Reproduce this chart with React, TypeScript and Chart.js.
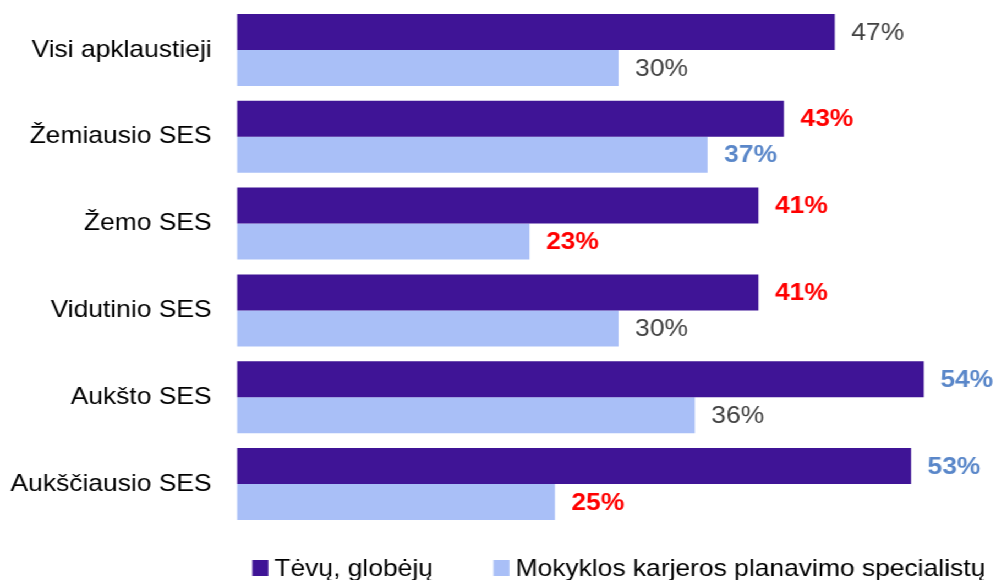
import React, { useEffect, useRef } from "react";
import { Chart, registerables } from "chart.js";

Chart.register(...registerables);

const categories = [
  "Visi apklaustieji",
  "Žemiausio SES",
  "Žemo SES",
  "Vidutinio SES",
  "Aukšto SES",
  "Aukščiausio SES",
];
const seriesNames = ["Tėvų, globėjų", "Mokyklos karjeros planavimo specialistų"];
const parentsValues = [47, 43, 41, 41, 54, 53];
const specialistValues = [30, 37, 23, 30, 36, 25];
const parentsLabelTone = ["plain", "red", "red", "red", "blue", "blue"];
const specialistLabelTone = ["plain", "blue", "red", "plain", "plain", "red"];
const xMin = 0;
const xMax = 59;

const COLORS = { dark: "#3F1496", light: "#A9BFF7" };
const TONES: Record<string, { color: string; weight: string }> = {
  plain: { color: "#404040", weight: "normal" },
  red: { color: "#FF0000", weight: "bold" },
  blue: { color: "#5A87C9", weight: "bold" },
};
const FONT = "'Liberation Sans', Arial, sans-serif";
const SX = 996 / 905;
const CW = 905;
const CH = 580;

const valueLabels = {
  id: "valueLabels",
  afterDatasetsDraw(chart: any) {
    const ctx = chart.ctx;
    const tones = [parentsLabelTone, specialistLabelTone];
    ctx.save();
    chart.data.datasets.forEach((ds: any, di: number) => {
      const meta = chart.getDatasetMeta(di);
      meta.data.forEach((bar: any, i: number) => {
        const tone = TONES[tones[di][i]];
        ctx.font = `${tone.weight} 24px ${FONT}`;
        ctx.fillStyle = tone.color;
        ctx.textAlign = "left";
        ctx.textBaseline = "middle";
        ctx.fillText(`${ds.data[i]}%`, bar.x + 15, bar.y + 1);
      });
    });
    ctx.restore();
  },
};

const customLegend = {
  id: "customLegend",
  afterDraw(chart: any) {
    const ctx = chart.ctx;
    const area = chart.chartArea;
    const colors = [COLORS.dark, COLORS.light];
    const yc = 568;
    let x = area.left + 14;
    ctx.save();
    ctx.font = `24px ${FONT}`;
    ctx.textAlign = "left";
    ctx.textBaseline = "middle";
    seriesNames.forEach((name, i) => {
      ctx.fillStyle = colors[i];
      ctx.fillRect(x, yc - 8, 14.5, 16);
      const tx = x + 20;
      ctx.fillStyle = "#000";
      ctx.fillText(name, tx, yc + 1);
      x = tx + ctx.measureText(name).width + 55;
    });
    ctx.restore();
  },
};

export default function App() {
  const ref = useRef<HTMLCanvasElement | null>(null);
  useEffect(() => {
    if (!ref.current) return;
    const chart = new Chart(ref.current, {
      type: "bar",
      data: {
        labels: categories,
        datasets: [
          {
            label: seriesNames[0],
            data: parentsValues,
            backgroundColor: COLORS.dark,
            barPercentage: 1,
            categoryPercentage: 0.83,
          },
          {
            label: seriesNames[1],
            data: specialistValues,
            backgroundColor: COLORS.light,
            barPercentage: 1,
            categoryPercentage: 0.83,
          },
        ],
      },
      options: {
        indexAxis: "y",
        animation: false,
        responsive: false,
        layout: { padding: { top: 6.6, bottom: 52.6, right: 7.8, left: 0 } },
        plugins: { legend: { display: false }, tooltip: { enabled: false } },
        scales: {
          x: { display: false, min: xMin, max: xMax },
          y: {
            grid: { display: false, drawTicks: false },
            border: { display: false },
            ticks: { font: { size: 24, family: FONT }, color: "#000", padding: 23 },
            afterFit: (axis: any) => {
              axis.width = 215.3;
              axis.paddingTop = 0;
              axis.paddingBottom = 0;
            },
          },
        },
      } as any,
      plugins: [valueLabels, customLegend],
    });
    return () => chart.destroy();
  }, []);
  return (
    <div
      style={{
        position: "absolute",
        left: 0,
        top: 0,
        width: CW,
        height: CH,
        transform: `scaleX(${SX})`,
        transformOrigin: "0 0",
        background: "#fff",
      }}
    >
      <canvas ref={ref} width={CW} height={CH} />
    </div>
  );
}
